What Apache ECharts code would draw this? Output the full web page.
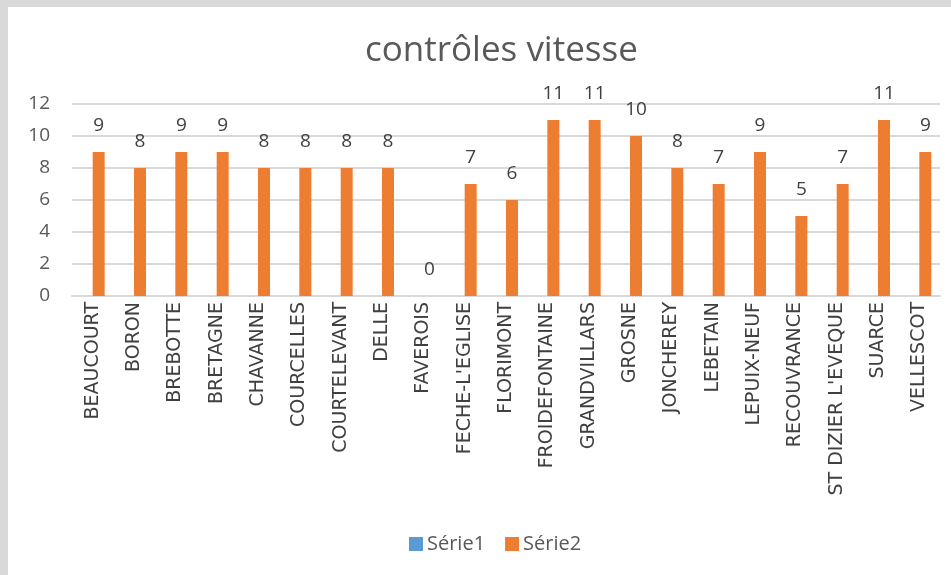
<!DOCTYPE html>
<html>
<head>
<meta charset="utf-8">
<script src="https://cdn.jsdelivr.net/npm/echarts@6/dist/echarts.min.js"></script>
<style>
  html, body { margin: 0; padding: 0; background: #d9d9d9; }
  #chart { position: absolute; left: 8px; top: 7px; width: 943px; height: 568px; background: #fff; }
</style>
</head>
<body>
<div id="chart"></div>
<script>
// communes (axe des catégories)
const communes = ['BEAUCOURT', 'BORON', 'BREBOTTE', 'BRETAGNE', 'CHAVANNE', 'COURCELLES',
  'COURTELEVANT', 'DELLE', 'FAVEROIS', "FECHE-L'EGLISE", 'FLORIMONT', 'FROIDEFONTAINE',
  'GRANDVILLARS', 'GROSNE', 'JONCHEREY', 'LEBETAIN', 'LEPUIX-NEUF', 'RECOUVRANCE',
  "ST DIZIER L'EVEQUE", 'SUARCE', 'VELLESCOT'];
const serie1 = [];
const serie2 = [9, 8, 9, 9, 8, 8, 8, 8, 0, 7, 6, 11, 11, 10, 8, 7, 9, 5, 7, 11, 9];

const myChart = echarts.init(document.getElementById('chart'));
const option = {
  animation: false,
  color: ['#5b9bd5', '#ed7d31'],
  textStyle: { fontFamily: 'Open Sans' },
  title: {
    text: 'contrôles vitesse',
    left: 352,
    top: 22,
    textStyle: { fontSize: 35, fontWeight: 'normal', color: '#595959', fontFamily: 'Open Sans' }
  },
  legend: {
    bottom: 16,
    left: 396,
    itemWidth: 14,
    itemHeight: 14,
    itemGap: 20,
    icon: 'rect',
    textStyle: { fontSize: 20, color: '#595959', padding: [0, 0, 0, -1] },
    data: ['Série1', 'Série2']
  },
  grid: { left: 64, top: 97, width: 868, height: 192, containLabel: false },
  xAxis: {
    type: 'category',
    data: communes,
    axisLine: { lineStyle: { color: '#d9d9d9', width: 2 } },
    axisTick: { show: false },
    axisLabel: {
      rotate: 90,
      interval: 0,
      margin: 6,
      fontSize: 19,
      color: '#404040',
      fontFamily: 'DejaVu Sans'
    }
  },
  yAxis: {
    type: 'value',
    min: 0,
    max: 12,
    interval: 2,
    axisLine: { show: false },
    axisTick: { show: false },
    splitLine: { lineStyle: { color: '#d9d9d9', width: 2 } },
    axisLabel: { fontSize: 19, color: '#595959', margin: 22 }
  },
  series: [
    { name: 'Série1', type: 'bar', data: serie1, barWidth: 12, barGap: '0%' },
    {
      name: 'Série2', type: 'bar', data: serie2, barWidth: 12, barGap: '0%',
      label: { show: true, position: 'top', distance: 17, fontSize: 19, color: '#404040' }
    }
  ]
};
myChart.setOption(option);
window.addEventListener('resize', () => myChart.resize());
</script>
</body>
</html>
